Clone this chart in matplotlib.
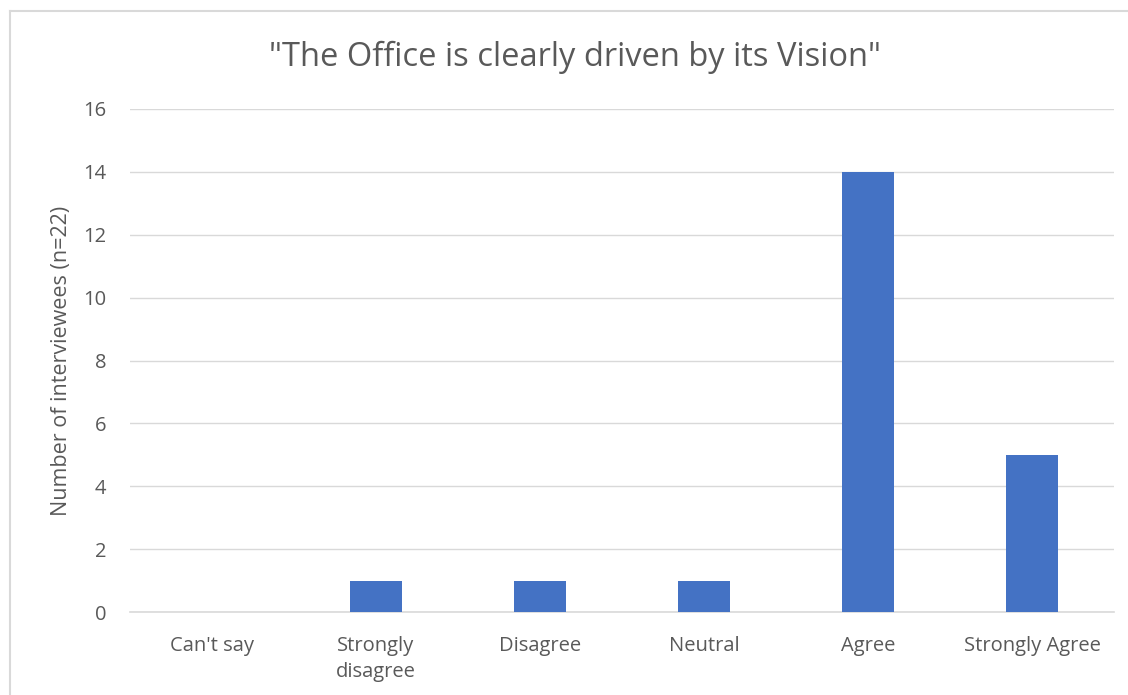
import matplotlib.pyplot as plt
from matplotlib.lines import Line2D

categories = ["Can't say", "Strongly\ndisagree", "Disagree", "Neutral", "Agree", "Strongly Agree"]
counts = [0, 1, 1, 1, 14, 5]
yticks = [0, 2, 4, 6, 8, 10, 12, 14, 16]

plt.rcParams['font.family'] = ['Open Sans', 'DejaVu Sans']
text_col = '#595959'
bar_col = '#4472C4'

fig = plt.figure(figsize=(11.28, 6.95), dpi=100)
ax = fig.add_axes([130 / 1128, 1 - 612 / 695, 984 / 1128, 503 / 695])

x = range(len(categories))
ax.bar(x, counts, width=0.32, color=bar_col, zorder=3)

ax.set_xlim(-0.5, len(categories) - 0.5)
ax.set_ylim(0, 16)
ax.set_yticks(yticks)
ax.set_xticks(list(x))
ax.set_xticklabels(categories, fontsize=14.5, color=text_col, linespacing=1.4)
ax.tick_params(axis='y', labelsize=14.5, labelcolor=text_col, length=0, pad=17)
ax.tick_params(axis='x', length=0, pad=17)
ax.grid(axis='y', color='#d9d9d9', linewidth=1, zorder=0)
for s in ['top', 'right', 'left']:
    ax.spines[s].set_visible(False)
ax.spines['bottom'].set_color('#d9d9d9')
ax.spines['bottom'].set_linewidth(1.2)

ax.set_ylabel('Number of interviewees (n=22)', fontsize=15.5, color=text_col, labelpad=8)
fig.text(0.51, 1 - 57 / 695, '"The Office is clearly driven by its Vision"',
         ha='center', va='center', fontsize=23.5, color=text_col)

# chart frame (only top and left edges fall inside the image)
fig.add_artist(Line2D([9.5 / 1128, 9.5 / 1128], [0, 1 - 11 / 695], color='#d9d9d9', linewidth=1.5))
fig.add_artist(Line2D([9.5 / 1128, 1], [1 - 11 / 695, 1 - 11 / 695], color='#d9d9d9', linewidth=1.5))

fig.savefig('out.png', dpi=100)
